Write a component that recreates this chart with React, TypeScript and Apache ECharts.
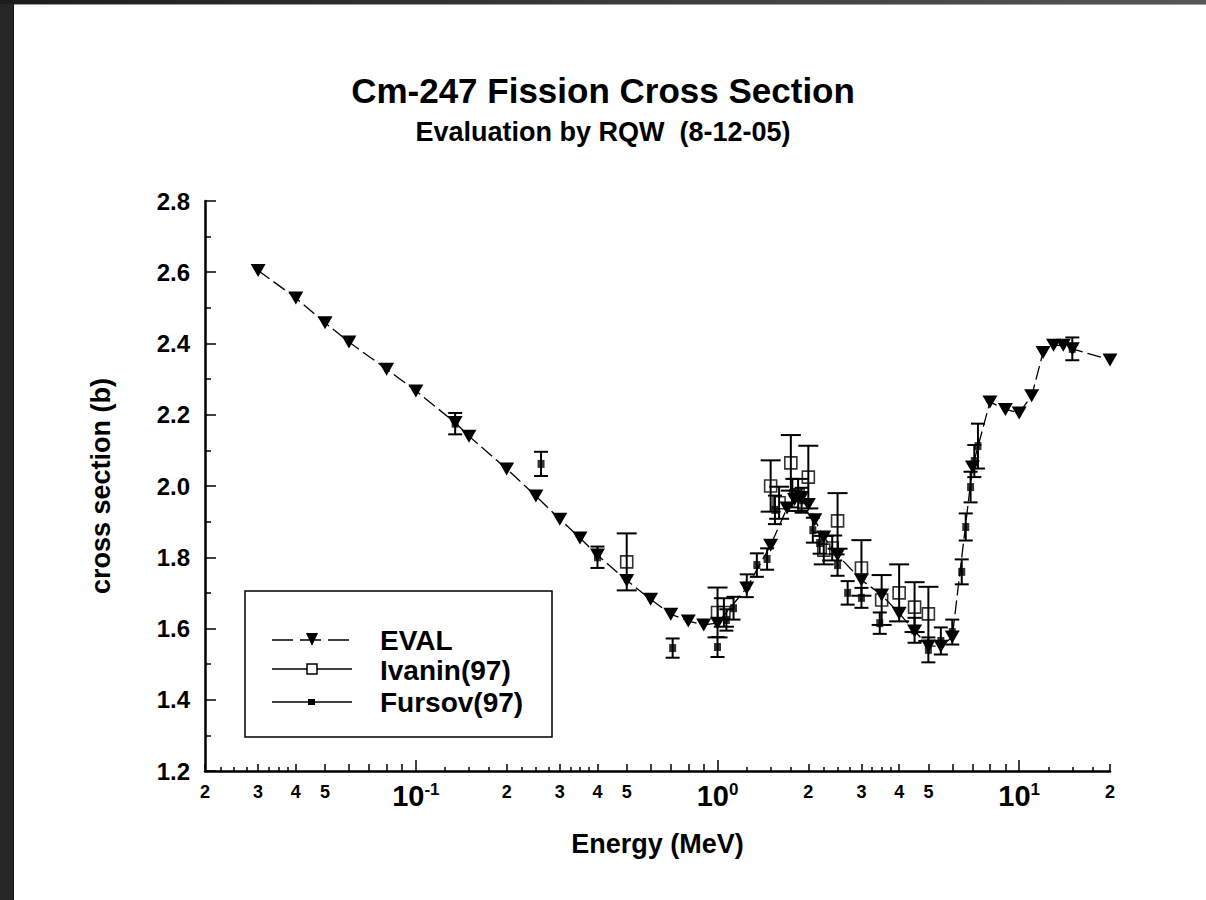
import React, { useEffect, useRef } from "react";
import * as echarts from "echarts";

// ---------- data (energy in MeV, cross section in barns) ----------
const evalEnergy = [
  0.03, 0.04, 0.05, 0.06, 0.08, 0.1, 0.135, 0.15, 0.2, 0.25, 0.3, 0.35, 0.4, 0.5, 0.6, 0.7, 0.8, 0.9,
  1.0, 1.25, 1.5, 1.7, 1.8, 1.9, 2.0, 2.1, 2.25, 2.5, 3.0, 3.5, 4.0, 4.5, 5.0, 5.5, 6.0, 7.0, 8.0, 9.0,
  10.0, 11.0, 12.0, 13.0, 14.0, 15.0, 20.0,
];
const evalXS = [
  2.605, 2.528, 2.458, 2.404, 2.328, 2.267, 2.178, 2.14, 2.048, 1.972, 1.907, 1.854, 1.806, 1.735, 1.682,
  1.64, 1.621, 1.61, 1.615, 1.714, 1.834, 1.938, 1.962, 1.968, 1.948, 1.905, 1.857, 1.806, 1.736, 1.694,
  1.643, 1.593, 1.551, 1.55, 1.576, 2.053, 2.236, 2.215, 2.205, 2.253, 2.375, 2.395, 2.395, 2.385, 2.354,
];

const ivaninEnergy = [0.5, 1.0, 1.05, 1.5, 1.6, 1.75, 1.85, 2.0, 2.25, 2.4, 2.5, 3.0, 3.5, 4.0, 4.5, 5.0];
const ivaninXS = [1.787, 1.645, 1.645, 2.0, 1.953, 2.065, 1.975, 2.025, 1.82, 1.826, 1.902, 1.77, 1.68, 1.7, 1.66, 1.641];
const ivaninErr = [0.08, 0.07, 0.04, 0.072, 0.045, 0.078, 0.045, 0.088, 0.04, 0.035, 0.078, 0.078, 0.07, 0.08, 0.07, 0.076];

const fursovEnergy = [
  0.135, 0.26, 0.4, 0.71, 1.0, 1.07, 1.13, 1.25, 1.35, 1.46, 1.55, 1.77, 1.9, 2.07, 2.18, 2.5, 2.7, 3.0,
  3.45, 4.5, 5.0, 5.5, 6.0, 6.45, 6.65, 6.9, 7.1, 7.3, 15.0,
];
const fursovXS = [
  2.175, 2.062, 1.8, 1.545, 1.548, 1.624, 1.657, 1.72, 1.778, 1.795, 1.933, 1.98, 1.96, 1.876, 1.84, 1.778,
  1.7, 1.686, 1.615, 1.595, 1.54, 1.565, 1.59, 1.759, 1.885, 1.997, 2.07, 2.112, 2.385,
];
const fursovErr = [
  0.03, 0.034, 0.03, 0.027, 0.028, 0.03, 0.032, 0.032, 0.033, 0.03, 0.04, 0.04, 0.035, 0.035, 0.03, 0.03,
  0.033, 0.028, 0.03, 0.035, 0.035, 0.038, 0.035, 0.035, 0.038, 0.043, 0.045, 0.063, 0.032,
];

// ---------- axis tick / label values ----------
const decadeValues = [0.1, 1, 10];
const integerTickValues = [
  0.02, 0.03, 0.04, 0.05, 0.06, 0.07, 0.08, 0.09, 0.2, 0.3, 0.4, 0.5, 0.6, 0.7, 0.8, 0.9, 2, 3, 4, 5, 6, 7,
  8, 9, 20,
];
const minorLabelValues = [0.02, 0.03, 0.04, 0.05, 0.2, 0.3, 0.4, 0.5, 2, 3, 4, 5, 20];
const fractionMantissas = [1.25, 1.5, 1.75, 2.25, 2.5, 2.75, 3.25, 3.5, 3.75];
const tickDecades = [0.01, 0.1, 1, 10];
const fractionTickValues = tickDecades
  .flatMap((d) => fractionMantissas.map((m) => +(m * d).toPrecision(6)))
  .filter((v) => v >= 0.02 && v <= 20);

const FONT = '"Liberation Sans", Arial, Helvetica, sans-serif';

const errorBarRenderer = (cap: number) => (params: any, api: any) => {
  const x = api.value(0);
  const y = api.value(1);
  const e = api.value(2);
  const p1 = api.coord([x, y + e]);
  const p2 = api.coord([x, y - e]);
  const h = cap / 2;
  const style = { stroke: "#000", lineWidth: 2, fill: "none" };
  return {
    type: "group",
    children: [
      { type: "line", shape: { x1: p1[0], y1: p1[1], x2: p2[0], y2: p2[1] }, style },
      { type: "line", shape: { x1: p1[0] - h, y1: p1[1], x2: p1[0] + h, y2: p1[1] }, style },
      { type: "line", shape: { x1: p2[0] - h, y1: p2[1], x2: p2[0] + h, y2: p2[1] }, style },
    ],
  };
};

const xBase = {
  type: "log",
  logBase: 10,
  min: 0.02,
  max: 20,
  position: "bottom",
  gridIndex: 0,
  splitLine: { show: false },
  minorTick: { show: false },
  minorSplitLine: { show: false },
  axisPointer: { show: false },
};

const tickLine = { color: "#000", width: 1.5 };

function buildOption(): any {
  const ivaninData = ivaninEnergy.map((e, i) => [e, ivaninXS[i], ivaninErr[i]]);
  const fursovData = fursovEnergy.map((e, i) => [e, fursovXS[i], fursovErr[i]]);
  const evalData = evalEnergy.map((e, i) => [e, evalXS[i]]);

  const legendText = (text: string, y: number) => ({
    type: "text",
    style: {
      text,
      x: 380,
      y,
      fill: "#000",
      font: `bold 28px ${FONT}`,
      textAlign: "left",
      textVerticalAlign: "middle",
      align: "left",
      verticalAlign: "middle",
    },
    z: 20,
  });

  return {
    animation: false,
    backgroundColor: "#ffffff",
    title: {
      text: "Cm-247 Fission Cross Section",
      subtext: "Evaluation by RQW  (8-12-05)",
      left: "center",
      top: 0,
      padding: [71, 0, 0, 16],
      itemGap: 8,
      textStyle: { fontFamily: FONT, fontWeight: "bold", fontSize: 35, lineHeight: 38, color: "#000" },
      subtextStyle: { fontFamily: FONT, fontWeight: "bold", fontSize: 27, lineHeight: 30, color: "#000" },
    },
    grid: { left: 205, right: 96, top: 201, bottom: 129, containLabel: false, outerBoundsMode: "none" },
    xAxis: [
      {
        ...xBase,
        name: "Energy (MeV)",
        nameLocation: "middle",
        nameGap: 59,
        nameTextStyle: { fontFamily: FONT, fontWeight: "bold", fontSize: 27, color: "#000" },
        axisLine: { show: true, lineStyle: { color: "#000", width: 2.5 } },
        axisTick: { show: true, inside: true, length: 11, lineStyle: tickLine, customValues: decadeValues },
        axisLabel: {
          show: true,
          margin: 10,
          customValues: decadeValues,
          formatter: (v: number) => `{b|10}{s|${Math.round(Math.log10(v))}}`,
          rich: {
            b: { fontFamily: FONT, fontWeight: "bold", fontSize: 29, lineHeight: 30, color: "#000" },
            s: {
              fontFamily: FONT,
              fontWeight: "bold",
              fontSize: 17,
              lineHeight: 18,
              color: "#000",
              verticalAlign: "top",
            },
          },
        },
      },
      {
        ...xBase,
        axisLine: { show: false },
        axisTick: { show: true, inside: true, length: 7, lineStyle: tickLine, customValues: integerTickValues },
        axisLabel: {
          show: true,
          margin: 12,
          customValues: minorLabelValues,
          formatter: (v: number) => {
            const d = Math.pow(10, Math.floor(Math.log10(v) + 1e-9));
            return String(Math.round(v / d));
          },
          fontFamily: FONT,
          fontWeight: "bold",
          fontSize: 18,
          color: "#000",
        },
      },
      {
        ...xBase,
        axisLine: { show: false },
        axisTick: { show: true, inside: true, length: 4, lineStyle: tickLine, customValues: fractionTickValues },
        axisLabel: { show: false },
      },
    ],
    yAxis: {
      type: "value",
      min: 1.2,
      max: 2.8,
      interval: 0.2,
      name: "cross section (b)",
      nameLocation: "middle",
      nameRotate: 90,
      nameGap: 91,
      nameTextStyle: { fontFamily: FONT, fontWeight: "bold", fontSize: 27, color: "#000" },
      axisLine: { show: true, lineStyle: { color: "#000", width: 2.5 } },
      axisTick: { show: true, inside: true, length: 11, lineStyle: tickLine },
      minorTick: { show: true, splitNumber: 2, length: 6, lineStyle: tickLine },
      splitLine: { show: false },
      minorSplitLine: { show: false },
      axisLabel: {
        margin: 15,
        fontFamily: FONT,
        fontWeight: "bold",
        fontSize: 24,
        color: "#000",
        formatter: (v: number) => v.toFixed(1),
      },
    },
    series: [
      {
        name: "Ivanin(97) errors",
        type: "custom",
        xAxisIndex: 0,
        yAxisIndex: 0,
        renderItem: errorBarRenderer(20),
        encode: { x: 0, y: 1 },
        data: ivaninData,
        z: 2,
        silent: true,
      },
      {
        name: "Fursov(97) errors",
        type: "custom",
        xAxisIndex: 0,
        yAxisIndex: 0,
        renderItem: errorBarRenderer(14),
        encode: { x: 0, y: 1 },
        data: fursovData,
        z: 2,
        silent: true,
      },
      {
        name: "Ivanin(97)",
        type: "scatter",
        xAxisIndex: 0,
        symbol: "rect",
        symbolSize: 12,
        itemStyle: { color: "rgba(255,255,255,0)", borderColor: "#000", borderWidth: 1.6 },
        data: ivaninData.map((d) => [d[0], d[1]]),
        z: 3,
        silent: true,
      },
      {
        name: "Fursov(97)",
        type: "scatter",
        xAxisIndex: 0,
        symbol: "rect",
        symbolSize: [7, 8],
        itemStyle: { color: "#000" },
        data: fursovData.map((d) => [d[0], d[1]]),
        z: 3,
        silent: true,
      },
      {
        name: "EVAL",
        type: "line",
        xAxisIndex: 0,
        yAxisIndex: 0,
        data: evalData,
        symbol: "triangle",
        symbolRotate: 180,
        symbolSize: [15, 13],
        showAllSymbol: true,
        itemStyle: { color: "#000" },
        lineStyle: { color: "#000", width: 1.3, type: [14, 5] },
        z: 4,
        silent: true,
      },
    ],
    graphic: {
      elements: [
        // frame
        { type: "rect", shape: { x: 0, y: 0, width: 13, height: 900 }, style: { fill: "#262626" }, z: 50 },
        {
          type: "rect",
          shape: { x: 0, y: 0, width: 1206, height: 4 },
          style: {
            fill: new echarts.graphic.LinearGradient(0, 0, 1, 0, [
              { offset: 0, color: "#1c1c1c" },
              { offset: 1, color: "#575757" },
            ]),
          },
          z: 50,
        },
        { type: "line", shape: { x1: 13, y1: 4.5, x2: 1206, y2: 4.5 }, style: { stroke: "#9a9a9a", lineWidth: 1 }, z: 50 },
        { type: "line", shape: { x1: 13.5, y1: 4, x2: 13.5, y2: 900 }, style: { stroke: "#111", lineWidth: 1 }, z: 50 },
        // legend box
        {
          type: "rect",
          shape: { x: 245, y: 591, width: 307, height: 146 },
          style: { fill: "#fff", stroke: "#000", lineWidth: 1.5 },
          z: 10,
        },
        // EVAL entry
        {
          type: "line",
          shape: { x1: 272, y1: 640, x2: 352, y2: 640 },
          style: { stroke: "#000", lineWidth: 1.5, lineDash: [21, 7] },
          z: 20,
        },
        {
          type: "polygon",
          shape: { points: [[306, 633], [318, 633], [312, 646]] },
          style: { fill: "#000" },
          z: 21,
        },
        legendText("EVAL", 640),
        // Ivanin entry
        {
          type: "line",
          shape: { x1: 272, y1: 669, x2: 352, y2: 669 },
          style: { stroke: "#000", lineWidth: 1.5 },
          z: 20,
        },
        {
          type: "rect",
          shape: { x: 307, y: 664, width: 10, height: 10 },
          style: { fill: "#fff", stroke: "#000", lineWidth: 1.5 },
          z: 21,
        },
        legendText("Ivanin(97)", 670),
        // Fursov entry
        {
          type: "line",
          shape: { x1: 272, y1: 702, x2: 352, y2: 702 },
          style: { stroke: "#000", lineWidth: 1.5 },
          z: 20,
        },
        {
          type: "rect",
          shape: { x: 308, y: 699, width: 7, height: 6 },
          style: { fill: "#000" },
          z: 21,
        },
        legendText("Fursov(97)", 702),
      ],
    },
  };
}

export default function App() {
  const ref = useRef<HTMLDivElement>(null);
  useEffect(() => {
    if (!ref.current) return;
    const chart = echarts.init(ref.current, undefined, { renderer: "svg" });
    chart.setOption(buildOption());
    return () => {
      chart.dispose();
    };
  }, []);
  return (
    <div
      ref={ref}
      style={{ position: "fixed", left: 0, top: 0, width: 1206, height: 900, background: "#fff" }}
    />
  );
}
